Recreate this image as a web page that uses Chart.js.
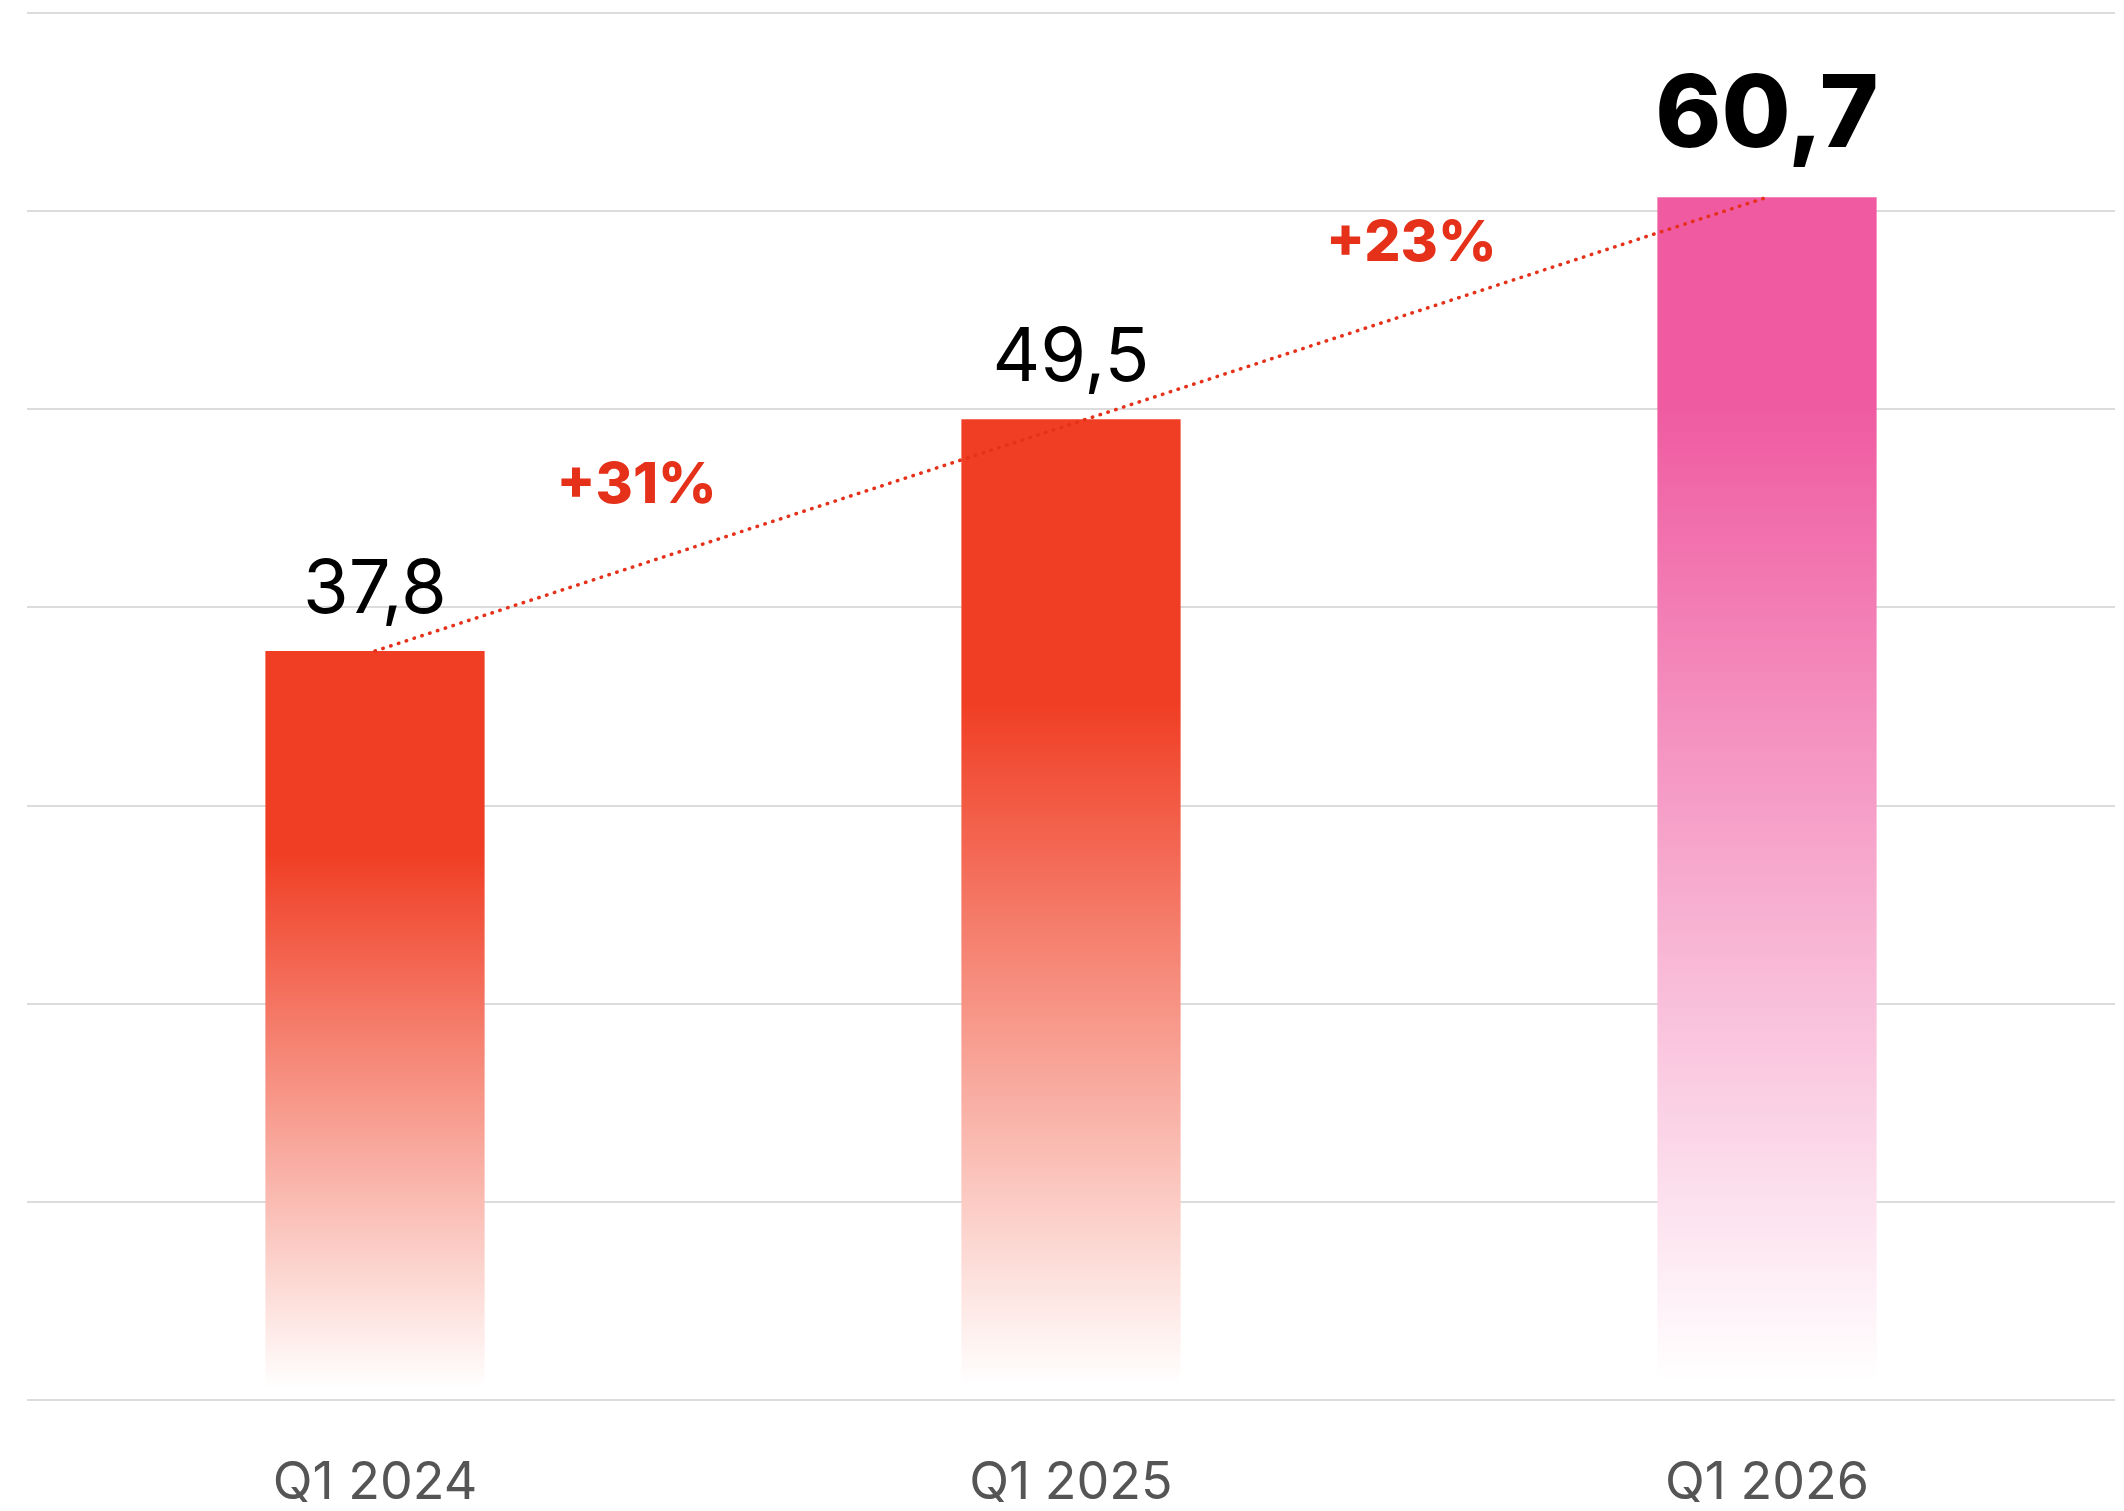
<!DOCTYPE html>
<html>
<head>
<meta charset="utf-8">
<script src="https://cdn.jsdelivr.net/npm/chart.js@4"></script>
<style>
  html, body { margin: 0; padding: 0; background: #fff; }
  #wrap { width: 2124px; height: 1511px; }
</style>
</head>
<body>
<div id="wrap"><canvas id="barChart"></canvas></div>
<script>
// data
const categories = ['Q1 2024', 'Q1 2025', 'Q1 2026'];
const values = [37.8, 49.5, 60.7];
const trendValues = [37.8, null, 60.7];
const growthLabels = ['+31%', '+23%'];
const yTicks = [0, 10, 20, 30, 40, 50, 60, 70];

// styles
const barColors = ['#F03E24', '#F03E24', '#EF5AA0'];
const solidStops = [0.27, 0.29, 0.17];
const growthPos = [0.376, 0.489];     // position between the two bars
const growthLift = [63, 52];          // px above the dotted line

const fmt = v => v.toString().replace('.', ',');

function barFill(ctx) {
    const chart = ctx.chart;
    const i = ctx.dataIndex;
    const color = barColors[i];
    if (!chart.chartArea || !chart.scales.y) return color;
    const top = chart.scales.y.getPixelForValue(values[i]);
    const bottom = chart.scales.y.getPixelForValue(0);
    const g = chart.ctx.createLinearGradient(0, top, 0, bottom);
    g.addColorStop(0, color);
    g.addColorStop(solidStops[i], color);
    g.addColorStop(0.985, '#ffffff');
    g.addColorStop(1, '#ffffff');
    return g;
}

const labelPlugin = {
    id: 'labels',
    afterDatasetsDraw(chart) {
        const c = chart.ctx;
        const x = chart.scales.x, y = chart.scales.y;
        c.save();
        c.textAlign = 'center';
        c.textBaseline = 'alphabetic';
        values.forEach((v, i) => {
            const last = i === values.length - 1;
            c.fillStyle = '#000';
            c.font = last ? '800 100px Inter' : '400 74px Inter';
            c.fillText(fmt(v), x.getPixelForValue(i), y.getPixelForValue(v) - (last ? 50 : 38));
        });
        // growth labels sit above the trend line
        const x0 = x.getPixelForValue(0), y0 = y.getPixelForValue(values[0]);
        const x2 = x.getPixelForValue(2), y2 = y.getPixelForValue(values[2]);
        const slope = (y2 - y0) / (x2 - x0);
        c.fillStyle = '#E5301A';
        c.font = '800 57px Inter';
        growthLabels.forEach((t, i) => {
            const xa = x.getPixelForValue(i), xb = x.getPixelForValue(i + 1);
            const px = xa + growthPos[i] * (xb - xa);
            const ly = y0 + slope * (px - x0);
            c.fillText(t, px, ly - growthLift[i]);
        });
        c.restore();
    }
};

const chart = new Chart(document.getElementById('barChart'), {
    type: 'bar',
    data: {
        labels: categories,
        datasets: [{
            type: 'line',
            data: trendValues,
            spanGaps: true,
            borderColor: '#E5301A',
            borderWidth: 3.5,
            borderDash: [0.5, 7.7],
            borderCapStyle: 'round',
            pointRadius: 0,
            fill: false,
            order: 0
        }, {
            data: values,
            backgroundColor: barFill,
            barPercentage: 0.315,
            categoryPercentage: 1,
            order: 1
        }]
    },
    options: {
        responsive: true,
        maintainAspectRatio: false,
        animation: false,
        layout: { padding: { left: 27, right: 9, top: 13, bottom: 0 } },
        plugins: { legend: { display: false }, tooltip: { enabled: false } },
        scales: {
            x: {
                grid: { display: false },
                border: { display: false },
                afterFit: axis => { axis.height = 111; },
                ticks: {
                    color: '#555555',
                    padding: 44,
                    font: { family: 'Inter', size: 52, weight: '400' }
                }
            },
            y: {
                min: 0,
                max: 70,
                afterBuildTicks: axis => { axis.ticks = yTicks.map(v => ({ value: v })); },
                grid: { color: '#dcdcdc', lineWidth: 2, drawTicks: false },
                border: { display: false },
                ticks: { display: false }
            }
        }
    },
    plugins: [labelPlugin]
});
</script>
</body>
</html>
